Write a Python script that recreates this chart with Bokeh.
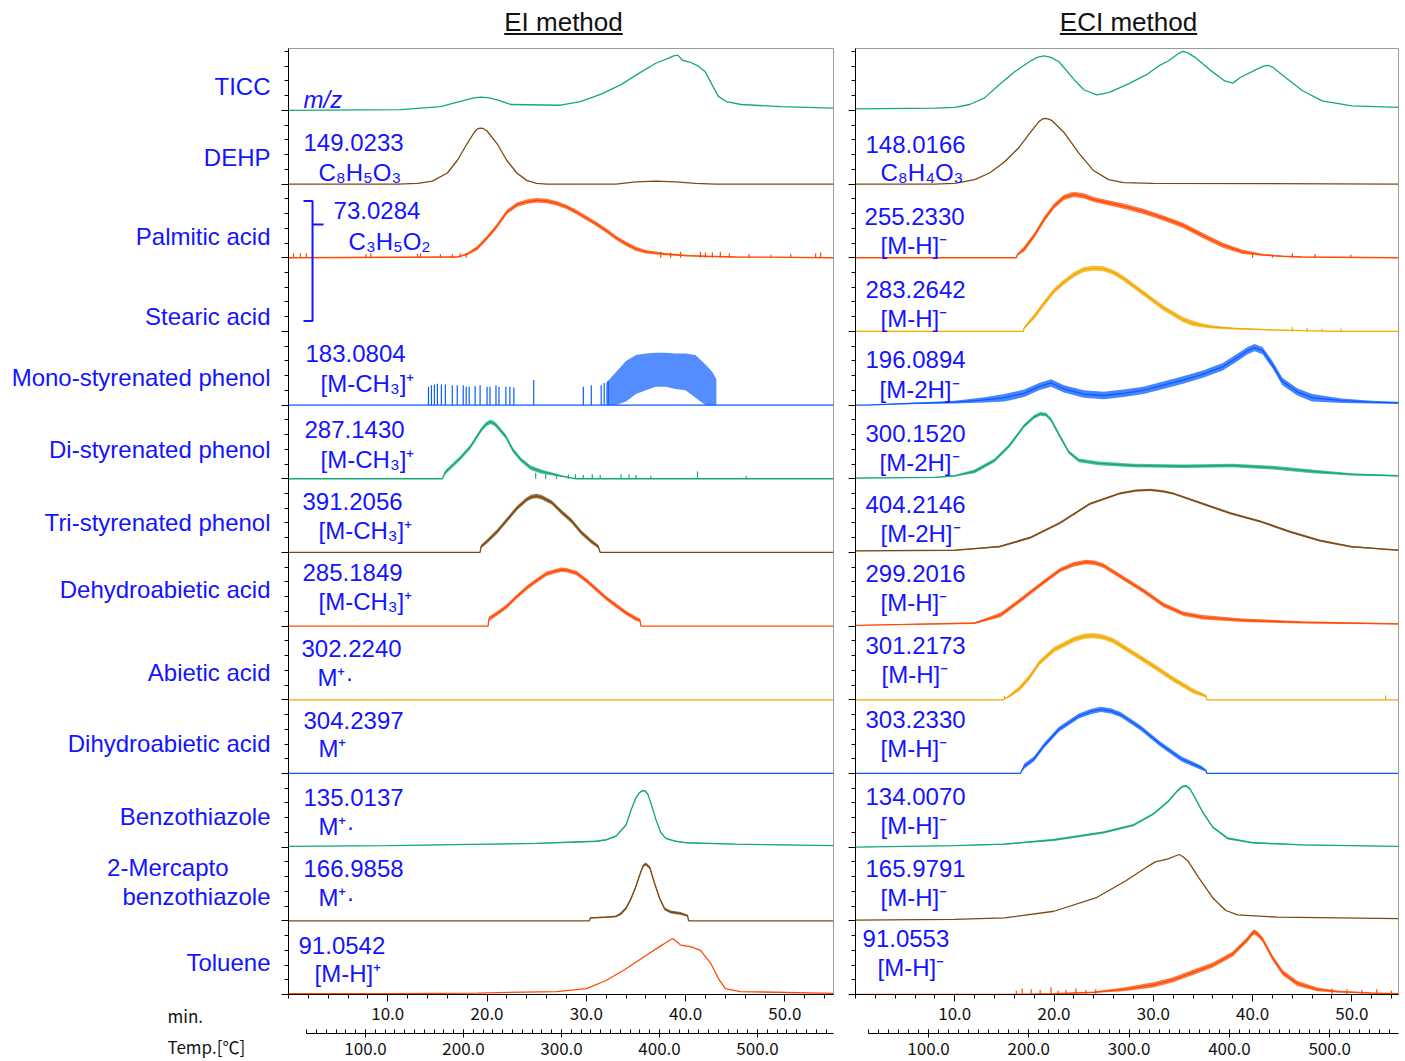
import numpy as np
from bokeh.plotting import figure
from bokeh.models import Range1d, LinearAxis, FixedTicker, PrintfTickFormatter, Div
from bokeh.layouts import row, column
from bokeh.embed import file_html
from bokeh.resources import INLINE
from bokeh.core.properties import value

# ---------------- data (time in min, intensity in fraction of a row) ----------------
compounds = ["TICC", "DEHP", "Palmitic acid", "Stearic acid", "Mono-styrenated phenol",
             "Di-styrenated phenol", "Tri-styrenated phenol", "Dehydroabietic acid",
             "Abietic acid", "Dihydroabietic acid", "Benzothiazole",
             "2-Mercapto", "benzothiazole", "Toluene"]
compound_y = [12.33, 11.36, 10.29, 9.20, 8.38, 7.40, 6.41, 5.50, 4.37, 3.41, 2.42, 1.72, 1.33, 0.43]
axis_names = ["min.", "Temp.[℃]"]

ei_texts = ["m/z", "149.0233", "C₈H₅O₃", "73.0284", "C₃H₅O₂", "183.0804", "[M-CH₃]⁺",
            "287.1430", "[M-CH₃]⁺", "391.2056", "[M-CH₃]⁺", "285.1849", "[M-CH₃]⁺",
            "302.2240", "M⁺·", "304.2397", "M⁺", "135.0137", "M⁺·", "166.9858", "M⁺·",
            "91.0542", "[M-H]⁺"]
eci_texts = ["148.0166", "C₈H₄O₃", "255.2330", "[M-H]⁻", "283.2642", "[M-H]⁻",
             "196.0894", "[M-2H]⁻", "300.1520", "[M-2H]⁻", "404.2146", "[M-2H]⁻",
             "299.2016", "[M-H]⁻", "301.2173", "[M-H]⁻", "303.2330", "[M-H]⁻",
             "134.0070", "[M-H]⁻", "165.9791", "[M-H]⁻", "91.0553", "[M-H]⁻"]

min_ticks = [10, 20, 30, 40, 50]
temp_ticks = [100, 200, 300, 400, 500]

# EI traces
ei_ticc_t = [0, 11.3, 15.3, 17.8, 18.7, 19.4, 20.2, 21.1, 22.4, 27.4, 29.4, 31.5, 33.5, 35.5, 37.0, 38.3, 38.8, 39.2, 39.7, 40.5, 41.3, 42.0, 42.7, 43.3, 44.1, 45.6, 49.6, 54.9]
ei_ticc_h = [0.0, 0.01, 0.05, 0.14, 0.17, 0.18, 0.17, 0.14, 0.08, 0.07, 0.12, 0.22, 0.35, 0.52, 0.64, 0.71, 0.74, 0.75, 0.68, 0.65, 0.60, 0.52, 0.34, 0.19, 0.12, 0.08, 0.05, 0.03]
ei_dehp_t = [0, 11.0, 13.0, 14.5, 16.0, 17.0, 18.0, 18.7, 19.0, 19.3, 19.6, 20.0, 21.0, 22.0, 23.0, 24.0, 25.0, 26.0, 33.0, 35.0, 37.0, 39.0, 41.0, 43.0, 54.9]
ei_dehp_h = [0, 0, 0.01, 0.04, 0.15, 0.32, 0.55, 0.70, 0.745, 0.76, 0.755, 0.72, 0.55, 0.32, 0.15, 0.05, 0.01, 0, 0, 0.03, 0.04, 0.03, 0.01, 0, 0]
ei_palm_t = [0, 17.0, 18.0, 19.0, 20.0, 21.0, 22.0, 23.0, 24.0, 25.0, 26.0, 27.0, 28.0, 29.0, 30.0, 31.0, 32.0, 33.0, 34.0, 35.0, 36.0, 38.0, 40.0, 42.0, 45.0, 54.9]
ei_palm_h = [0, 0.01, 0.05, 0.13, 0.27, 0.43, 0.62, 0.72, 0.76, 0.78, 0.77, 0.74, 0.69, 0.62, 0.54, 0.46, 0.37, 0.27, 0.19, 0.12, 0.08, 0.05, 0.03, 0.02, 0.01, 0]
ei_palm_spike_t = [0.5, 1.2, 1.8, 7.8, 8.3, 13.0, 13.3, 15.3, 16.5, 17.3, 17.9, 37.5, 38.5, 39.5, 41.5, 42.0, 42.7, 43.5, 44.4, 46.4, 48.6, 50.6, 53.1, 53.6]
ei_palm_spike_h = [0.06, 0.06, 0.06, 0.05, 0.06, 0.05, 0.06, 0.05, 0.05, 0.06, 0.07, 0.08, 0.07, 0.08, 0.08, 0.07, 0.07, 0.08, 0.06, 0.05, 0.04, 0.05, 0.06, 0.07]
ei_mono_spike_t = [14.1, 14.4, 14.7, 15.0, 15.4, 15.8, 16.5, 17.0, 17.6, 17.9, 18.2, 18.8, 19.3, 20.0, 20.3, 20.9, 21.2, 21.9, 22.3, 22.7, 24.7, 29.7, 30.5, 31.5, 31.8, 32.2]
ei_mono_spike_h = [0.25, 0.27, 0.28, 0.29, 0.28, 0.28, 0.27, 0.27, 0.27, 0.25, 0.25, 0.26, 0.27, 0.25, 0.25, 0.27, 0.25, 0.25, 0.25, 0.24, 0.34, 0.25, 0.27, 0.27, 0.30, 0.33]
ei_mono_band_t = [32.0, 33.0, 34.0, 35.0, 36.0, 37.0, 38.0, 39.0, 40.0, 41.0, 42.0, 42.7, 43.1]
ei_mono_band_lo = [0.0, 0.0, 0.05, 0.15, 0.20, 0.25, 0.25, 0.22, 0.20, 0.10, 0.0, 0.0, 0.0]
ei_mono_band_hi = [0.30, 0.45, 0.60, 0.68, 0.70, 0.71, 0.71, 0.70, 0.70, 0.68, 0.55, 0.45, 0.35]
ei_di_t = [0, 15.5, 15.8, 17.3, 18.3, 19.4, 19.9, 20.3, 20.6, 20.9, 21.9, 22.6, 23.4, 24.4, 25.4, 27.4, 29.0, 54.9]
ei_di_h = [0, 0, 0.09, 0.28, 0.43, 0.66, 0.74, 0.77, 0.76, 0.73, 0.57, 0.39, 0.26, 0.15, 0.10, 0.04, 0.0, 0]
ei_di_spike_t = [24.9, 25.9, 27.0, 28.2, 28.9, 29.7, 30.6, 31.4, 33.5, 34.3, 35.0, 36.5, 41.2, 46.1]
ei_di_spike_h = [0.08, 0.06, 0.07, 0.06, 0.06, 0.05, 0.06, 0.05, 0.06, 0.06, 0.05, 0.04, 0.10, 0.04]
ei_tri_t = [0, 19.3, 19.4, 20.0, 21.0, 22.0, 23.0, 24.0, 24.5, 25.0, 25.5, 26.5, 27.5, 28.5, 29.5, 30.5, 31.2, 31.4, 54.9]
ei_tri_h = [0, 0, 0.08, 0.15, 0.28, 0.44, 0.60, 0.72, 0.755, 0.765, 0.75, 0.68, 0.55, 0.43, 0.27, 0.15, 0.08, 0, 0]
ei_dehy_t = [0, 20.1, 20.2, 21.0, 22.0, 23.0, 24.0, 25.0, 26.0, 27.0, 27.5, 28.0, 29.0, 30.0, 31.0, 32.0, 33.0, 34.0, 35.0, 35.4, 35.5, 54.9]
ei_dehy_h = [0, 0, 0.10, 0.17, 0.27, 0.40, 0.52, 0.62, 0.71, 0.75, 0.765, 0.76, 0.72, 0.62, 0.50, 0.38, 0.28, 0.18, 0.10, 0.08, 0, 0]
ei_abie_t = [0, 54.9]
ei_abie_h = [0, 0]
ei_dihy_t = [0, 54.9]
ei_dihy_h = [0, 0]
ei_benz_t = [0, 10, 20, 25, 29, 31, 32, 33, 34, 34.5, 35, 35.3, 35.6, 35.9, 36.2, 36.5, 37, 37.5, 38, 39, 40, 45, 50, 54.9]
ei_benz_h = [0.01, 0.02, 0.04, 0.05, 0.07, 0.08, 0.10, 0.15, 0.30, 0.50, 0.67, 0.73, 0.765, 0.765, 0.72, 0.60, 0.38, 0.20, 0.12, 0.08, 0.06, 0.04, 0.03, 0.02]
ei_merc_t = [0, 30.3, 30.4, 32.0, 33.0, 33.5, 34.0, 34.5, 35.0, 35.5, 35.75, 36.0, 36.4, 36.9, 37.4, 37.9, 38.5, 39.5, 40.2, 40.3, 54.9]
ei_merc_h = [0, 0, 0.04, 0.05, 0.06, 0.10, 0.17, 0.30, 0.47, 0.67, 0.75, 0.77, 0.72, 0.50, 0.30, 0.16, 0.12, 0.10, 0.07, 0, 0]
ei_tolu_t = [0, 10, 19, 27, 30, 32, 34, 36, 37.5, 38.2, 38.7, 39.1, 39.5, 40.5, 41.5, 42.5, 43.3, 44.0, 45.5, 54.9]
ei_tolu_h = [0.01, 0.01, 0.02, 0.04, 0.08, 0.19, 0.35, 0.53, 0.66, 0.72, 0.76, 0.72, 0.67, 0.65, 0.60, 0.43, 0.22, 0.08, 0.04, 0.015]

# ECI traces
eci_ticc_t = [0, 8, 10, 11.5, 13, 14.5, 16, 17.5, 18.3, 19, 19.7, 20.5, 22, 23, 24.3, 25.5, 27.5, 29.5, 30.5, 31.5, 32.5, 33.0, 33.5, 34.2, 35.7, 37.2, 38.0, 38.8, 40.3, 41.1, 41.6, 42.1, 43, 45, 47, 50, 54.7]
eci_ticc_h = [0.02, 0.03, 0.04, 0.08, 0.17, 0.35, 0.52, 0.66, 0.72, 0.74, 0.72, 0.66, 0.42, 0.28, 0.21, 0.24, 0.36, 0.50, 0.60, 0.67, 0.77, 0.80, 0.78, 0.72, 0.55, 0.40, 0.37, 0.45, 0.55, 0.60, 0.61, 0.58, 0.48, 0.27, 0.13, 0.06, 0.04]
eci_dehp_t = [0, 8, 10, 12, 13.5, 15, 16.5, 17.5, 18.5, 18.8, 19.1, 19.4, 19.8, 21, 22.5, 24, 25.5, 27, 30, 54.7]
eci_dehp_h = [0, 0, 0.01, 0.06, 0.15, 0.30, 0.50, 0.68, 0.85, 0.88, 0.89, 0.885, 0.86, 0.70, 0.42, 0.18, 0.06, 0.02, 0.01, 0.0]
eci_palm_t = [0, 16.2, 16.3, 17, 18, 19, 20, 21, 22, 23, 24, 25, 27, 29, 31, 33, 35, 37, 39, 41, 43, 45, 54.7]
eci_palm_h = [0, 0, 0.04, 0.12, 0.30, 0.52, 0.70, 0.82, 0.86, 0.84, 0.79, 0.76, 0.70, 0.63, 0.54, 0.44, 0.30, 0.17, 0.08, 0.04, 0.02, 0.01, 0]
eci_palm_spike_t = [40.0, 42.0, 44.0, 46.3, 49.9]
eci_palm_spike_h = [0.05, 0.04, 0.06, 0.05, 0.04]
eci_stea_t = [0, 16.9, 17, 18, 19, 20, 21, 22, 23, 24, 25, 26, 27, 28, 29, 30, 31, 32, 33, 34, 35, 36, 38, 42, 45, 49, 54.7]
eci_stea_h = [0, 0, 0.05, 0.20, 0.38, 0.55, 0.67, 0.77, 0.84, 0.86, 0.85, 0.80, 0.72, 0.62, 0.52, 0.42, 0.32, 0.24, 0.16, 0.11, 0.08, 0.06, 0.04, 0.02, 0.01, 0, 0]
eci_stea_spike_t = [44.0, 45.5, 47.0, 48.9]
eci_stea_spike_h = [0.06, 0.05, 0.04, 0.04]
eci_mono_t = [0, 1, 5, 10, 13, 15, 17, 18.5, 19.7, 21, 23, 25, 27, 29, 31, 33, 35, 37, 38.5, 39.5, 40.2, 41, 42, 43, 44.5, 46, 49, 52, 54.7]
eci_mono_h = [0, 0.0, 0.02, 0.04, 0.07, 0.10, 0.16, 0.25, 0.30, 0.22, 0.15, 0.13, 0.16, 0.20, 0.27, 0.34, 0.42, 0.52, 0.65, 0.74, 0.78, 0.74, 0.55, 0.32, 0.18, 0.10, 0.06, 0.04, 0.03]
eci_di_t = [0, 8, 10, 12, 14, 15.5, 17, 18.0, 18.6, 19.2, 19.7, 20.5, 21.5, 22.5, 24.5, 28, 33, 38, 42, 46, 50, 54.7]
eci_di_h = [0.01, 0.02, 0.04, 0.10, 0.25, 0.45, 0.72, 0.84, 0.88, 0.87, 0.80, 0.60, 0.36, 0.25, 0.21, 0.18, 0.17, 0.18, 0.15, 0.10, 0.06, 0.04]
eci_tri_t = [0, 10, 14.5, 17.6, 20.6, 23.6, 26.6, 28.2, 29.7, 31.0, 32, 34.8, 37.8, 40.8, 43.8, 46.8, 49.9, 54.7]
eci_tri_h = [0.02, 0.03, 0.08, 0.20, 0.40, 0.66, 0.80, 0.84, 0.85, 0.83, 0.80, 0.67, 0.53, 0.42, 0.28, 0.16, 0.08, 0.03]
eci_dehy_t = [0, 12, 14.6, 16.6, 18.6, 20.6, 22.0, 23.2, 24.1, 25, 27, 29, 31, 33, 35, 39, 45, 54.7]
eci_dehy_h = [0.01, 0.04, 0.15, 0.35, 0.56, 0.76, 0.84, 0.87, 0.86, 0.82, 0.65, 0.48, 0.29, 0.17, 0.12, 0.08, 0.05, 0.03]
eci_abie_t = [0, 14.9, 15.5, 16.5, 17.5, 18.5, 20, 22, 23, 24, 25, 26, 28, 30, 32, 34, 35.3, 35.4, 54.7]
eci_abie_h = [0, 0, 0.05, 0.15, 0.30, 0.50, 0.68, 0.82, 0.86, 0.87, 0.85, 0.80, 0.63, 0.46, 0.28, 0.12, 0.05, 0, 0]
eci_abie_spike_t = [15.0, 53.4]
eci_abie_spike_h = [0.05, 0.06]
eci_dihy_t = [0, 16.6, 17, 18, 19, 20.5, 22.5, 23.7, 24.7, 25.7, 26.7, 28.7, 30.7, 32.8, 34.8, 35.3, 35.4, 54.7]
eci_dihy_h = [0, 0, 0.10, 0.20, 0.38, 0.60, 0.78, 0.84, 0.87, 0.85, 0.80, 0.62, 0.40, 0.20, 0.08, 0.04, 0, 0]
eci_benz_t = [0, 10, 15, 20, 25, 28, 30, 31.5, 32.4, 32.9, 33.3, 33.7, 34.2, 35, 36, 37.5, 40, 45, 54.7]
eci_benz_h = [0.0, 0.02, 0.04, 0.10, 0.20, 0.30, 0.45, 0.62, 0.76, 0.82, 0.83, 0.79, 0.67, 0.47, 0.27, 0.12, 0.06, 0.03, 0.01]
eci_merc_t = [0, 10, 15, 20, 24.2, 27.2, 29.7, 30.2, 31.5, 32.2, 32.6, 33.0, 33.5, 34.5, 36, 37.3, 38.5, 42.5, 54.7]
eci_merc_h = [0.01, 0.02, 0.04, 0.13, 0.31, 0.54, 0.76, 0.80, 0.84, 0.88, 0.90, 0.87, 0.81, 0.60, 0.31, 0.14, 0.08, 0.05, 0.03]
eci_tolu_t = [0, 16, 20, 24, 27, 30, 32, 34, 36, 38, 39.5, 39.9, 40.2, 40.5, 41, 42, 43, 44.5, 46.5, 48.5, 52, 54.7]
eci_tolu_h = [0, 0, 0.01, 0.03, 0.07, 0.13, 0.20, 0.30, 0.40, 0.55, 0.75, 0.82, 0.85, 0.82, 0.75, 0.50, 0.30, 0.15, 0.07, 0.04, 0.02, 0.01]
eci_tolu_spike_t = [16.2, 16.8, 17.7, 18.6, 19.7, 20.4, 21.2, 22.2, 23.2, 24.2, 48.0, 49.5, 51.0, 52.5, 54.0]
eci_tolu_spike_h = [0.05, 0.08, 0.07, 0.06, 0.10, 0.05, 0.06, 0.08, 0.06, 0.07, 0.08, 0.07, 0.06, 0.07, 0.05]

# ---------------- styling ----------------
TEAL = "#14a87c"
BROWN = "#7b4a12"
ORANGE = "#ff4a00"
GOLD = "#f2a900"
BLUE = "#0a5cff"
TXT = "#1414ff"
FONT = "Liberation Sans"
TICKFONT = "Noto Sans CJK JP"
NROW = 12
YTOP = 12.84
ROWPX = 73.67


def base(r):
    return NROW - r


def make_panel(xmax, fw, bl, br, tfun):
    p = figure(frame_width=fw, frame_height=946, x_range=Range1d(0, xmax), y_range=Range1d(0, YTOP),
               output_backend="svg", toolbar_location=None, min_border_left=bl, min_border_right=br,
               min_border_top=8, min_border_bottom=67, background_fill_color="white",
               border_fill_color="white", outline_line_color="#9a9a9a")
    p.grid.visible = False
    yt = list(range(0, NROW + 1))
    p.yaxis.ticker = FixedTicker(ticks=yt, minor_ticks=[round(i * 0.2, 2) for i in range(0, 65)])
    p.yaxis.major_label_overrides = {i: "" for i in yt}
    p.yaxis.major_label_standoff = 0
    p.yaxis.major_tick_out = 7
    p.yaxis.major_tick_in = 0
    p.yaxis.minor_tick_out = 4
    p.yaxis.minor_tick_in = 0
    p.yaxis.axis_line_color = "black"
    # min axis
    xa = p.xaxis[0]
    xa.ticker = FixedTicker(ticks=min_ticks, minor_ticks=list(range(0, 56, 2)))
    xa.formatter = PrintfTickFormatter(format="%.1f")
    xa.major_tick_out = 7
    xa.major_tick_in = 0
    xa.minor_tick_out = 4
    xa.minor_tick_in = 0
    xa.major_label_standoff = 5
    xa.major_label_text_font = TICKFONT
    xa.major_label_text_font_size = "17px"
    xa.major_label_text_color = "#111111"
    xa.axis_label = "\u00a0"
    xa.axis_label_text_font_size = "6px"
    xa.axis_label_standoff = 2
    # temperature axis
    t0, t1 = tfun(0), tfun(xmax)
    p.extra_x_ranges = {"temp": Range1d(t0, t1)}
    ta = LinearAxis(x_range_name="temp", bounds=(40, t1),
                    ticker=FixedTicker(ticks=temp_ticks, minor_ticks=list(range(40, int(t1) + 1, 10))),
                    formatter=PrintfTickFormatter(format="%.1f"))
    ta.major_tick_in = 4
    ta.major_tick_out = 4
    ta.minor_tick_in = 4
    ta.minor_tick_out = 0
    ta.major_label_standoff = 4
    ta.major_label_text_font = TICKFONT
    ta.major_label_text_font_size = "17px"
    ta.major_label_text_color = "#111111"
    p.add_layout(ta, "below")
    return p


def trace(p, t, h, r, color, noise=0.0, lw=1.3):
    t = np.asarray(t, float)
    h = np.asarray(h, float)
    b = base(r)
    if noise > 0:
        w = noise * np.clip(h / 0.1, 0, 1)
        p.varea(x=t, y1=b + np.maximum(h - w, 0), y2=b + h + w, fill_color=color, fill_alpha=0.75)
    p.line(t, b + h, line_color=color, line_width=lw)


def spikes(p, t, h, r, color):
    b = base(r)
    t = np.asarray(t, float)
    p.segment(x0=t, y0=np.full(len(t), b), x1=t, y1=b + np.asarray(h, float), line_color=color, line_width=1.2)


def texts(p, xs, ys, labels, style="normal"):
    p.text(x=xs, y=ys, text=labels, text_font=value(FONT), text_font_size=value("24px"),
           text_font_style=style, text_color=TXT, text_baseline="middle", text_align="left")


ei_temp = lambda t: 100 + (t - 7.76) * 10.13
eci_temp = lambda t: 100 + (t - 7.36) * 9.9

# label column (pixel-like coordinates horizontally, row units vertically)
p0 = figure(frame_width=280, frame_height=1013, x_range=Range1d(0, 280),
            y_range=Range1d(-(1061 - 994) / ROWPX, YTOP), x_axis_type=None, y_axis_type=None,
            output_backend="svg", toolbar_location=None, min_border_left=0, min_border_right=0,
            min_border_top=8, min_border_bottom=0, outline_line_color=None)
p0.grid.visible = False
name_x = [270] * 11 + [228, 270, 270]
p0.text(x=name_x, y=compound_y, text=compounds, text_font=value(FONT), text_font_size=value("24px"),
        text_color=TXT, text_baseline="middle", text_align="right")
p0.text(x=[167, 167], y=[-0.28, -0.70], text=axis_names, text_font=value(TICKFONT),
        text_font_size=value("17px"), text_color="#111111", text_baseline="middle", text_align="left")

p1 = make_panel(54.9, 545, 8, 5, ei_temp)
p2 = make_panel(54.7, 543, 17, 7, eci_temp)

# EI
trace(p1, ei_ticc_t, ei_ticc_h, 0, TEAL)
trace(p1, ei_dehp_t, ei_dehp_h, 1, BROWN)
trace(p1, ei_palm_t, ei_palm_h, 2, ORANGE, noise=0.03)
spikes(p1, ei_palm_spike_t, ei_palm_spike_h, 2, ORANGE)
spikes(p1, ei_mono_spike_t, ei_mono_spike_h, 4, BLUE)
p1.varea(x=ei_mono_band_t, y1=[base(4) + v for v in ei_mono_band_lo], y2=[base(4) + v for v in ei_mono_band_hi],
         fill_color=BLUE, fill_alpha=0.7)
p1.line([0, 54.9], [base(4), base(4)], line_color=BLUE, line_width=1.3)
trace(p1, ei_di_t, ei_di_h, 5, TEAL, noise=0.03)
spikes(p1, ei_di_spike_t, ei_di_spike_h, 5, TEAL)
trace(p1, ei_tri_t, ei_tri_h, 6, BROWN, noise=0.03)
trace(p1, ei_dehy_t, ei_dehy_h, 7, ORANGE, noise=0.03)
trace(p1, ei_abie_t, ei_abie_h, 8, GOLD)
trace(p1, ei_dihy_t, ei_dihy_h, 9, BLUE)
trace(p1, ei_benz_t, ei_benz_h, 10, TEAL, noise=0.01)
trace(p1, ei_merc_t, ei_merc_h, 11, BROWN, noise=0.02)
trace(p1, ei_tolu_t, ei_tolu_h, 12, ORANGE)

# ECI
trace(p2, eci_ticc_t, eci_ticc_h, 0, TEAL)
trace(p2, eci_dehp_t, eci_dehp_h, 1, BROWN)
trace(p2, eci_palm_t, eci_palm_h, 2, ORANGE, noise=0.035)
spikes(p2, eci_palm_spike_t, eci_palm_spike_h, 2, ORANGE)
trace(p2, eci_stea_t, eci_stea_h, 3, GOLD, noise=0.035)
spikes(p2, eci_stea_spike_t, eci_stea_spike_h, 3, GOLD)
trace(p2, eci_mono_t, eci_mono_h, 4, BLUE, noise=0.05)
trace(p2, eci_di_t, eci_di_h, 5, TEAL, noise=0.025)
trace(p2, eci_tri_t, eci_tri_h, 6, BROWN, noise=0.015)
trace(p2, eci_dehy_t, eci_dehy_h, 7, ORANGE, noise=0.03)
trace(p2, eci_abie_t, eci_abie_h, 8, GOLD, noise=0.035)
spikes(p2, eci_abie_spike_t, eci_abie_spike_h, 8, GOLD)
trace(p2, eci_dihy_t, eci_dihy_h, 9, BLUE, noise=0.035)
trace(p2, eci_benz_t, eci_benz_h, 10, TEAL, noise=0.015)
trace(p2, eci_merc_t, eci_merc_h, 11, BROWN)
trace(p2, eci_tolu_t, eci_tolu_h, 12, ORANGE, noise=0.035)
spikes(p2, eci_tolu_spike_t, eci_tolu_spike_h, 12, ORANGE)

# annotation texts inside panels
ei_tx = [1.51, 1.51, 3.02, 4.54, 6.05, 1.71, 3.23, 1.61, 3.23, 1.41, 3.02, 1.41, 3.02,
         1.31, 2.92, 1.51, 3.02, 1.51, 3.02, 1.51, 3.02, 1.01, 2.62]
ei_ty = [12.15, 11.57, 11.16, 10.64, 10.22, 8.70, 8.29, 7.67, 7.26, 6.69, 6.30, 5.73, 5.33,
         4.70, 4.30, 3.72, 3.34, 2.67, 2.28, 1.71, 1.32, 0.67, 0.29]
texts(p1, ei_tx[:1], ei_ty[:1], ei_texts[:1], style="italic")
texts(p1, ei_tx[1:], ei_ty[1:], ei_texts[1:])

eci_tx = [1.01, 2.52, 0.91, 2.52, 1.01, 2.52, 1.01, 2.42, 1.01, 2.42, 1.01, 2.52,
          1.01, 2.52, 1.01, 2.62, 1.01, 2.52, 1.01, 2.52, 1.01, 2.52, 0.71, 2.22]
eci_ty = [11.54, 11.16, 10.56, 10.17, 9.57, 9.18, 8.62, 8.21, 7.62, 7.22, 6.65, 6.26,
          5.71, 5.32, 4.74, 4.34, 3.73, 3.34, 2.69, 2.29, 1.71, 1.32, 0.76, 0.37]
texts(p2, eci_tx, eci_ty, eci_texts)

# bracket joining palmitic / stearic acid
bt, bb = base(2) + 0.77, base(3) + 0.14
p1.line([1.51, 2.42, 2.42, 1.51], [bt, bt, bb, bb], line_color=TXT, line_width=2)
p1.line([2.42, 3.53], [base(2) + 0.45, base(2) + 0.45], line_color=TXT, line_width=2)

tstyle = ("font-family:'Liberation Sans';font-size:26px;text-decoration:underline;"
          "text-align:center;color:#111;padding-top:4px;")
d1 = Div(text=f'<div style="width:545px;margin-left:291px;{tstyle}">EI method</div>',
         width=838, height=40, margin=0)
d2 = Div(text=f'<div style="width:543px;margin-left:19px;{tstyle}">ECI method</div>',
         width=567, height=40, margin=0)

layout = column(row(d1, d2, spacing=0), row(p0, p1, p2, spacing=0), spacing=0)
open("out.html", "w").write(file_html(layout, INLINE))
